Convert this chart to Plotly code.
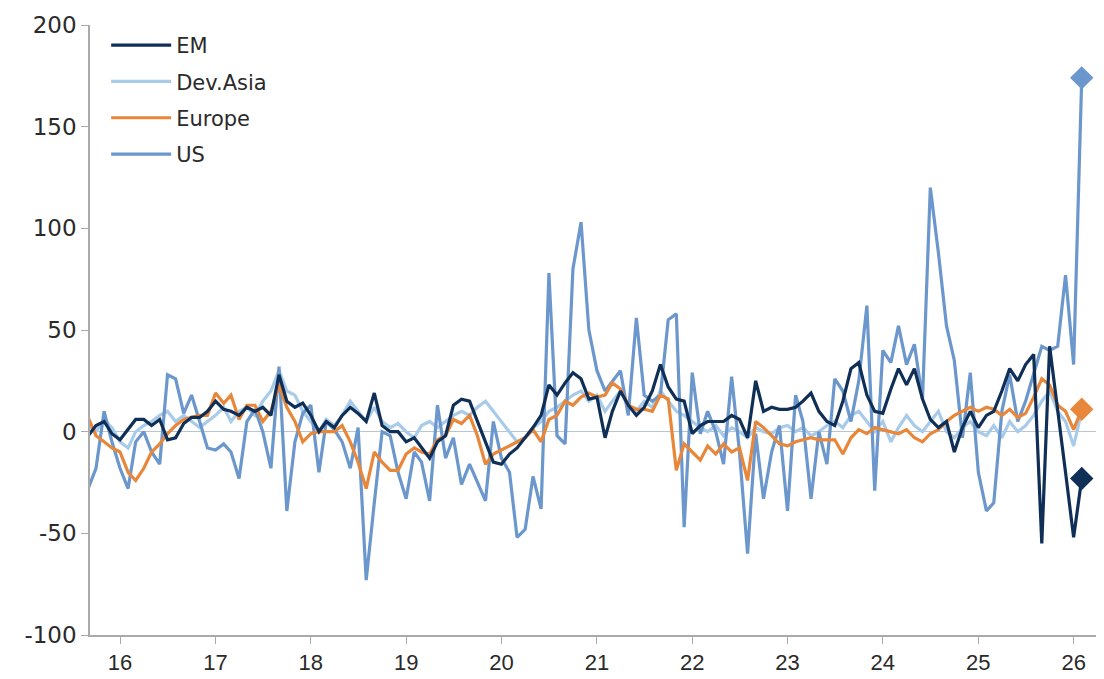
"""Flows by region, monthly, Sep-2015 to Feb-2026."""
import pandas as pd
import plotly.graph_objects as go

NAVY = "#0f2f57"
LIGHT = "#a9cbea"
ORANGE = "#e8873a"
MID = "#6b97cc"

months = pd.date_range("2015-09-01", "2026-02-01", freq="MS")

us = [
    -28, -18, 10, -5,
    -18, -28, -5, 0, -10, -16, 28, 26, 9, 18, 5, -8,
    -9, -6, -10, -23, 5, 11, 0, -18, 32, -39, -5, 9,
    13, -20, 5, 1, -5, -18, 2, -73, -35, 0, -2, -20,
    -33, -10, -15, -34, 13, -13, -3, -26, -16, -25, -34, 5,
    -13, -20, -52, -48, -22, -38, 78, -2, -6, 80, 103, 50,
    30, 20, 25, 30, 8, 56, 18, 15, 18, 55, 58, -47,
    29, -1, 10, 0, -16, 27, -10, -60, -1, -33, -10, 3,
    -39, 18, 5, -33, 0, -16, 26, 20, 5, 25, 62, -29,
    40, 34, 52, 33, 43, 16, 120, 88, 52, 35, -3, 29,
    -20, -39, -35, 10, 28, 5, 15, 29, 42, 40, 42, 77,
    33, 174,
]

em = [
    -2, 3, 5, -1,
    -4, 1, 6, 6, 3, 6, -4, -3, 4, 7, 7, 10,
    15, 11, 10, 8, 12, 10, 12, 8, 28, 15, 12, 14,
    8, 0, 5, 2, 8, 12, 9, 5, 19, 3, 0, 0,
    -5, -3, -8, -13, -5, -2, 13, 16, 15, 5, -5, -15,
    -16, -11, -8, -3, 2, 8, 23, 18, 24, 29, 26, 16,
    17, -3, 10, 20, 13, 8, 12, 20, 33, 22, 16, 15,
    -1, 3, 5, 5, 5, 8, 6, -3, 25, 10, 12, 11,
    11, 12, 15, 19, 10, 5, 3, 15, 31, 34, 18, 10,
    9, 21, 31, 23, 31, 16, 6, 2, 5, -10, 2, 10,
    2, 8, 10, 20, 31, 25, 33, 38, -55, 42, 12, -20,
    -52, -23,
]

europe = [
    7, -2, -5, -8,
    -10, -20, -24, -18, -10, -6, -1, 3, 6, 7, 8, 8,
    19, 14, 18, 6, 13, 13, 5, 10, 23, 12, 5, -5,
    -1, 0, 0, 0, 3, -5, -15, -28, -10, -15, -19, -19,
    -11, -8, -10, -11, -4, -2, 6, 4, 8, -2, -16, -11,
    -9, -7, -5, -3, 1, -5, 6, 8, 15, 13, 17, 19,
    17, 18, 24, 21, 13, 11, 11, 10, 18, 16, -19, -6,
    -10, -14, -7, -11, -6, -10, -8, -24, 5, 2, -2, -6,
    -7, -5, -4, -3, -4, -4, -4, -11, -3, 1, -1, 2,
    1, 0, -1, 1, -3, -5, -1, 1, 5, 8, 10, 12,
    10, 12, 11, 8, 11, 7, 9, 17, 26, 23, 13, 10,
    1, 11,
]

dev_asia = [
    3, 0, 6, 2,
    -5, -8, 0, 3, 5, 8, 10, 5, 8, 5, 2, 5,
    8, 12, 5, 10, 12, 8, 15, 20, 30, 20, 18, 10,
    5, 0, 6, 3, 8, 15, 10, 5, 12, 5, 2, 4,
    0, -3, 3, 5, 2, 5, 8, 10, 8, 12, 15, 10,
    5, 0, -5, -3, 2, 5, 10, 12, 15, 18, 20, 15,
    18, 10, 15, 20, 12, 10, 15, 12, 20, 15, 10, 8,
    5, 2, 0, 3, -2, 2, 0, -3, 2, 0, -1, 2,
    3, 0, 2, -2, 0, 3, 5, 2, 8, 10, 5, 0,
    5, -5, 2, 8, 3, 0, 5, 10, 0, -3, 2, 5,
    0, -2, 3, -3, 5, 0, 3, 8, 15, 20, 10, 5,
    -7, 10,
]

year_ticks = pd.date_range("2016-01-01", "2026-01-01", freq="YS")
year_labels = [d.strftime("%y") for d in year_ticks]
y_ticks = [-100, -50, 0, 50, 100, 150, 200]
y_labels = [str(v) for v in y_ticks]  # plain hyphen, as in the source

series = [
    ("EM", em, NAVY),
    ("Dev.Asia", dev_asia, LIGHT),
    ("Europe", europe, ORANGE),
    ("US", us, MID),
]
legend_order = [s[0] for s in series]
draw_order = [series[1], series[3], series[2], series[0]]

fig = go.Figure()
for name, vals, col in draw_order:
    fig.add_trace(
        go.Scatter(
            x=months, y=vals, mode="lines", name=name,
            line=dict(color=col, width=3.2),
            legendgroup=name, legendrank=legend_order.index(name),
        )
    )
# end-point diamonds
for name, vals, col in draw_order:
    if name == "Dev.Asia":
        continue
    fig.add_trace(
        go.Scatter(
            x=months[-1:], y=vals[-1:], mode="markers", showlegend=False,
            marker=dict(symbol="diamond", size=18, color=col),
        )
    )

# page body has an 8px margin, so the figure is shrunk and shifted to fit
fig.update_layout(
    width=1096, height=671,
    margin=dict(l=82, r=4, t=11, b=38),
    paper_bgcolor="white", plot_bgcolor="white",
    font=dict(family="DejaVu Sans, sans-serif", size=23, color="#2a2a2a"),
    showlegend=True,
    legend=dict(
        x=0.016, y=1.0, xanchor="left", yanchor="top",
        font=dict(size=21, color="#2a2a2a"), tracegroupgap=6,
        traceorder="grouped", bgcolor="rgba(0,0,0,0)", itemwidth=60,
    ),
)
fig.update_xaxes(
    range=["2015-09-08", "2026-04-12"],
    tickvals=year_ticks, ticktext=year_labels,
    tickfont=dict(family="Liberation Sans Narrow, Liberation Sans, sans-serif", size=22),
    showline=True, linecolor="#aaaaaa", linewidth=1.5,
    ticks="outside", ticklen=7, tickcolor="#aaaaaa",
    showgrid=False, zeroline=False,
)
fig.update_yaxes(
    range=[-100, 200], tickvals=y_ticks, ticktext=y_labels,
    ticklabeloverflow="allow",
    showline=True, linecolor="#aaaaaa", linewidth=1.5,
    ticks="outside", ticklen=7, tickcolor="#aaaaaa",
    showgrid=False, zeroline=True, zerolinecolor="#b6c6d4", zerolinewidth=1,
)

fig.write_html("out.html")
